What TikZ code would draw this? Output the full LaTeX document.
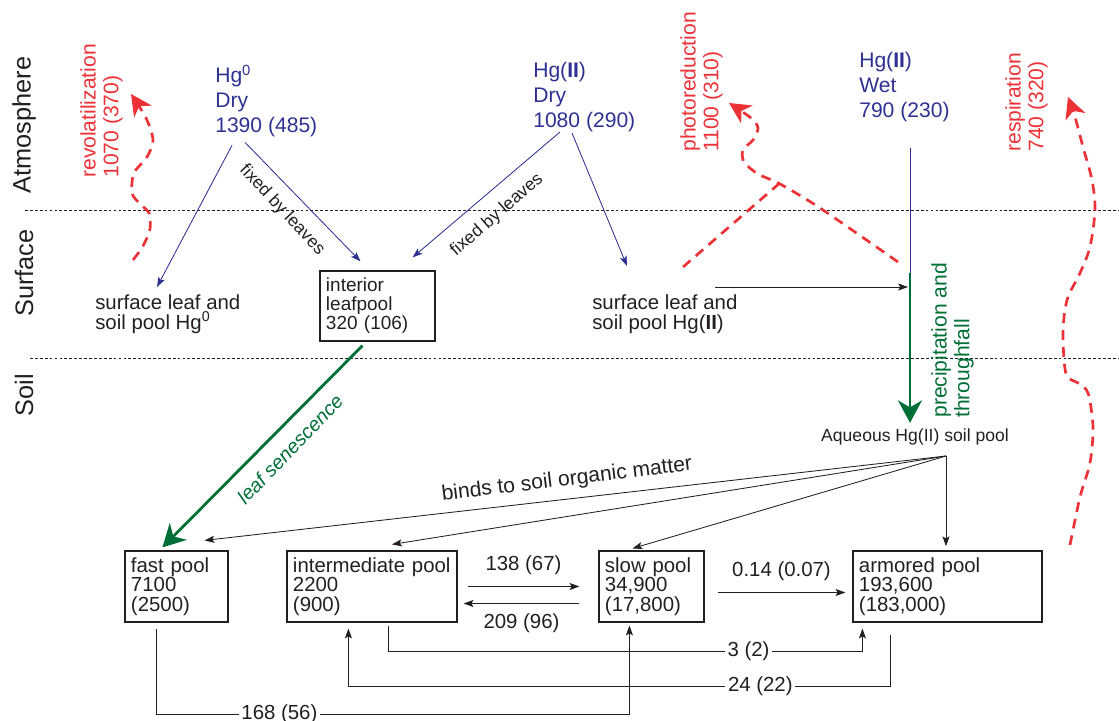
\documentclass[tikz,border=0pt]{standalone}
\usepackage{fontspec}
\setmainfont{Liberation Sans}
\usetikzlibrary{arrows.meta,calc}

\definecolor{hgblue}{RGB}{46,49,146}
\definecolor{hgred}{RGB}{237,50,55}
\definecolor{hggreen}{RGB}{0,110,55}
\definecolor{ink}{RGB}{35,31,32}

\tikzset{
  flow/.style={-{Stealth[length=7pt,width=5pt,inset=1.5pt]}, line width=0.6pt, ink},
  dep/.style={-{Stealth[length=7pt,width=5pt,inset=1.5pt]}, line width=0.6pt, hgblue},
  wash/.style={-{Stealth[length=16pt,width=17pt,inset=5pt]}, line width=2pt, hggreen},
  loss/.style={hgred, line width=1.9pt, dash pattern=on 7pt off 5pt},
  lossend/.style={loss, -{Stealth[length=15pt,width=15pt,inset=4.5pt]}},
  zone/.style={ink, line width=0.5pt, dash pattern=on 2pt off 1.5pt},
  zonelbl/.style={rotate=90, ink, font=\fontsize{18}{20}\selectfont},
  srclbl/.style={anchor=north west, align=left, inner sep=0pt, hgblue, font=\fontsize{15}{17.7}\selectfont},
  vlbl/.style={rotate=90, anchor=north west, align=left, inner sep=0pt, font=\fontsize{15}{16.3}\selectfont},
  txt/.style={anchor=north west, align=left, inner sep=0pt, ink, font=\fontsize{14.5}{14.2}\selectfont},
  pool/.style={draw=ink, line width=0.8pt, align=left, inner xsep=0.15cm, inner ysep=0pt,
    minimum height=1.775cm, text=ink, font=\fontsize{14.5}{14}\selectfont},
  numlbl/.style={inner sep=2pt, text=ink, fill=white, font=\fontsize{14.5}{14}\selectfont},
  fixlbl/.style={ink, inner sep=1pt, font=\fontsize{12.5}{14}\selectfont},
}

\begin{document}
\begin{tikzpicture}[x=0.025cm, y=-0.025cm]
    \useasboundingbox (0,0) rectangle (1119,721);

    % zones
    \draw[zone] (25,210) -- (1119,210);
    \draw[zone] (30,358) -- (1119,358);
    \node[zonelbl] (atm) at (24,125) {Atmosphere};
    \node[zonelbl] (surf) at (24,273) {Surface};
    \node[zonelbl] (soil) at (24,395) {Soil};

    % deposition
    \node[srclbl] (hg0) at (215,65) {Hg\textsuperscript{0}\\Dry\\1390 (485)};
    \node[srclbl] (hg2d) at (533,62) {Hg(\textbf{II})\\Dry\\1080 (290)};
    \node[srclbl] (hg2w) at (859,52) {Hg(\textbf{II})\\Wet\\790 (230)};

    \node[vlbl, hgred] (revol) at (80,178) {revolatilization\\1070 (370)};
    \node[vlbl, hgred] (photo) at (680,152) {photoreduction\\1100 (310)};
    \node[vlbl, hgred] (resp) at (1005,152) {respiration\\740 (320)};

    \node[txt] (sl0) at (95,294) {surface leaf and\\soil pool Hg\textsuperscript{0}};
    \node[txt] (sl2) at (592,294) {surface leaf and\\soil pool Hg(\textbf{II})};
    \node[pool, text width=2.575cm, minimum height=1.75cm, font=\fontsize{13.5}{13.5}\selectfont] (leafpool) at (377.5,306) {interior\\leafpool\\320 (106)};

    \draw[dep] ($(hg0.south west)+(17,8)$) -- ($(sl0.north west)+(62,-7)$);
    \draw[dep] ($(hg0.south west)+(30,5)$) -- ($(leafpool.north)+(-17,-9)$);
    \draw[dep] ($(hg2d.south west)+(27,0)$) -- ($(leafpool.north east)+(-23,-13)$);
    \draw[dep] ($(hg2d.south west)+(39,1)$) -- ($(sl2.north west)+(35,-28)$);
    \node[fixlbl, rotate=-47] (fix0) at (282,210) {fixed by leaves};
    \node[fixlbl, rotate=41] (fix2) at (497,215) {fixed by leaves};

    % wet deposition and throughfall
    \node[ink, inner sep=1pt, font=\fontsize{12.5}{14}\selectfont] (aq) at (915,437) {Aqueous Hg(II) soil pool};
    \coordinate (wettop) at (910,148);
    \coordinate (wetmid) at (910,273);
    \coordinate (runoff) at (715,287);
    \draw[hgblue, line width=0.6pt] (wettop) -- (wetmid);
    \draw[wash, shorten >=3pt] (wetmid) -- (wetmid |- aq.north);
    \draw[flow] (runoff) -- ($(runoff -| wetmid)+(-2,0)$);
    \node[vlbl, hggreen] (precip) at (931,418) {precipitation and\\throughfall};

    % re-emission
    \draw[lossend] plot[smooth] coordinates {(133,260) (143,246) (150,229) (149,213) (140,204) (132,193) (134,173) (147,157) (153,140) (146,118) (131,94)};
    \draw[loss] (683,267) -- (781,182);
    \draw[lossend] plot[smooth] coordinates {(898,262) (820,208) (780,184) (758,174) (744,162) (743,150) (753,140) (758,128) (751,118) (729,103)};
    \draw[lossend] plot[smooth] coordinates {(1070,545) (1080,497) (1090,463) (1093,427) (1088,393) (1078,383) (1066,374) (1063,333) (1067,300) (1080,273) (1090,247) (1095,210) (1092,180) (1083,147) (1075,117) (1068,97)};

    % soil pools
    \node[pool, text width=2.275cm] (fast) at (176.5,586.5) {fast pool\\7100\\(2500)};
    \node[pool, text width=3.95cm] (inter) at (372,586.5) {intermediate pool\\2200\\(900)};
    \node[pool, text width=2.325cm] (slow) at (651.5,586.5) {slow pool\\34,900\\(17,800)};
    \node[pool, text width=4.425cm] (armored) at (947.5,586.5) {armored pool\\193,600\\(183,000)};

    \draw[wash] ($(leafpool.south)+(-15,4)$) -- ($(fast.north west)+(38,-3)$);
    \node[hggreen, rotate=46, font=\itshape\fontsize{14}{16}\selectfont] (senes) at (290,449) {leaf senescence};

    \coordinate (fan) at (946,456);
    \draw[flow] (fan) -- ($(fast.north)+(28,-10)$);
    \draw[flow] (fan) -- ($(inter.north)+(20,-6)$);
    \draw[flow] (fan) -- ($(slow.north)+(-19,-2)$);
    \draw[flow, shorten >=3pt] (fan) -- (fan |- armored.north);
    \node[ink, rotate=7, font=\fontsize{15}{16}\selectfont] (binds) at (567,480) {binds to soil organic matter};

    \draw[flow] ($(inter.east)+(10,0)$) -- node[numlbl, fill=none, above=6pt] {138 (67)} ($(slow.west)+(-19,0)$);
    \draw[flow] ($(slow.west)+(-19,17)$) -- node[numlbl, fill=none, below=5pt] {209 (96)} ($(inter.east)+(6,17)$);
    \draw[flow] ($(slow.east)+(13,6)$) -- node[numlbl, fill=none, above=6pt] {0.14 (0.07)} ($(armored.west)+(-7,6)$);

    \draw[flow] ($(inter.south)+(16,3)$) |- node[numlbl, pos=0.88] {3 (2)} ($(armored.south west)+(10,29)$) -- ++(0,-23);
    \draw[flow] ($(armored.south west)+(38,12)$) |- node[numlbl, pos=0.62] {24 (22)} ($(inter.south west)+(62,64)$) -- ++(0,-58);
    \draw[flow] ($(fast.south west)+(32,6)$) |- node[numlbl, pos=0.63] {168 (56)} ($(slow.south west)+(31,92)$) -- ++(0,-89);
\end{tikzpicture}
\end{document}
